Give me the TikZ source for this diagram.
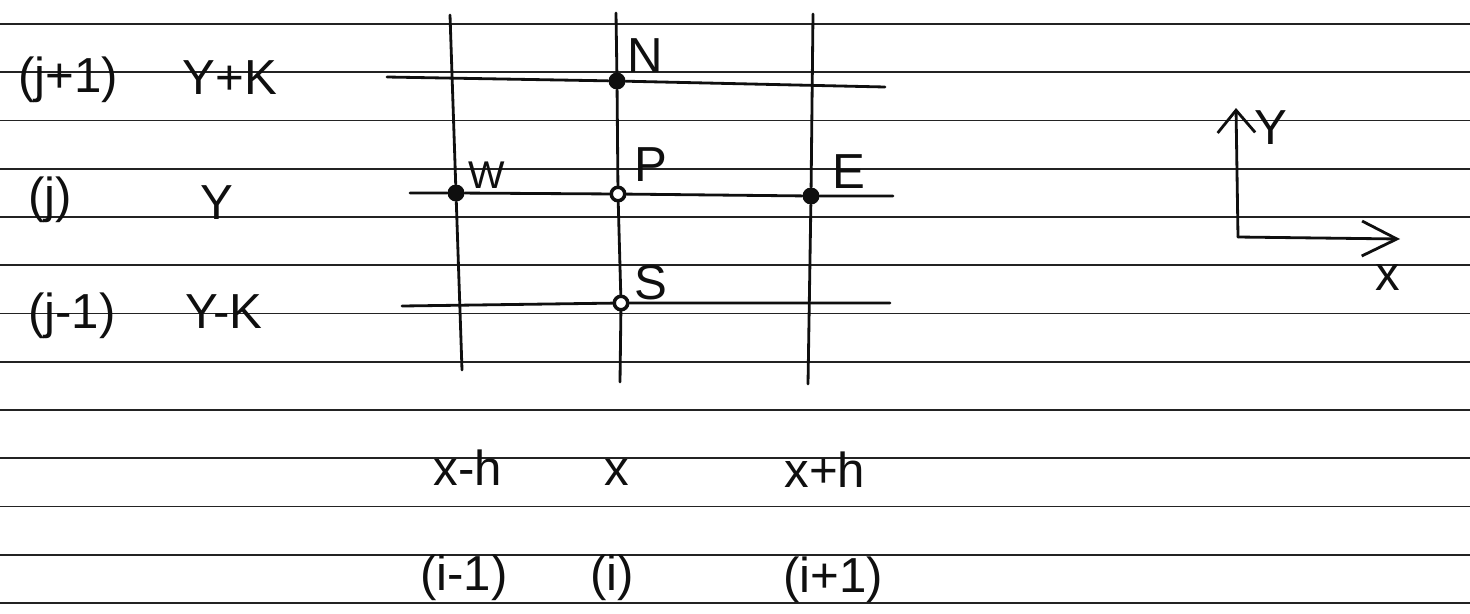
\documentclass[tikz,border=0pt]{standalone}
\usepackage{fontspec}
\setmainfont{Liberation Sans}
\usepackage{tikz}
\usetikzlibrary{arrows.meta, positioning, calc}
\definecolor{inkblack}{RGB}{15, 15, 15}
\definecolor{rulegray}{RGB}{35, 35, 35}

\begin{document}
\begin{tikzpicture}[x=0.02cm, y=-0.02cm,
  every node/.style={font=\fontsize{28}{32}\selectfont, inner sep=0pt, text=inkblack},
  rule/.style={rulegray, line width=1pt},
  pen/.style={inkblack, line width=1.6pt, line cap=round},
  fullpt/.style={circle, fill=inkblack, minimum size=0.34cm},
  openpt/.style={circle, draw=inkblack, fill=white, line width=2pt, minimum size=0.27cm}]
\useasboundingbox (0,0) rectangle (1470,613);
\foreach \r in {0,...,12}
  \draw[rule] (0,{24+48.25*\r}) -- (1470,{24+48.25*\r});
\coordinate (wtop) at (450,15);
\coordinate (wbot) at (462,370);
\coordinate (ptop) at (616,13);
\coordinate (pbot) at (620,382);
\coordinate (etop) at (813,14);
\coordinate (ebot) at (808,384);
\coordinate (nleft) at (387,77);
\coordinate (nright) at (885,87);
\coordinate (pleft) at (410,193);
\coordinate (pright) at (893,196);
\coordinate (sleft) at (402,306);
\coordinate (sright) at (890,303);
\node[fullpt] (N) at (617,81) {};
\node[fullpt] (W) at (456,193) {};
\node[openpt] (P) at (618,194) {};
\node[fullpt] (E) at (811,196) {};
\node[openpt] (S) at (621,303) {};
\draw[pen] (wtop) -- (W) -- (wbot);
\draw[pen] (ptop) -- (N) -- (P) -- (S) -- (pbot);
\draw[pen] (etop) -- (E) -- (ebot);
\draw[pen] (nleft) -- (N) -- (nright);
\draw[pen] (pleft) -- (W) -- (P) -- (E) -- (pright);
\draw[pen] (sleft) -- (S) -- (sright);
\node (labN) at (645,56) {N};
\node[font=\fontsize{22}{26}\selectfont] (labW) at (487,175) {W};
\node (labP) at (651,165) {P};
\node (labE) at (849,172) {E};
\node (labS) at (651,283) {S};
\node (jup) at (68,80) {(j+1)};
\node (yup) at (230,78) {Y+K};
\node (jmid) at (50,200) {(j)};
\node (ymid) at (217,203) {Y};
\node (jdown) at (72,316) {(j-1)};
\node (ydown) at (224,312) {Y-K};
\node (xleft) at (468,468) {x-h};
\node (xmid) at (617,472) {x};
\node (xright) at (825,470) {x+h};
\node (ileft) at (464,578) {(i-1)};
\node (imid) at (612,578) {(i)};
\node (iright) at (833,580) {(i+1)};
\coordinate (O) at (1238,237);
\coordinate (Ytip) at (1236,108);
\coordinate (Xtip) at (1400,239);
\draw[pen, -{Straight Barb[length=0.45cm, width=0.75cm]}] (O) -- (Ytip);
\draw[pen, -{Straight Barb[length=0.7cm, width=0.7cm]}] (O) -- (Xtip);
\node (labY) at (1271,128) {Y};
\node (labX) at (1388,277) {x};
\end{tikzpicture}
\end{document}
